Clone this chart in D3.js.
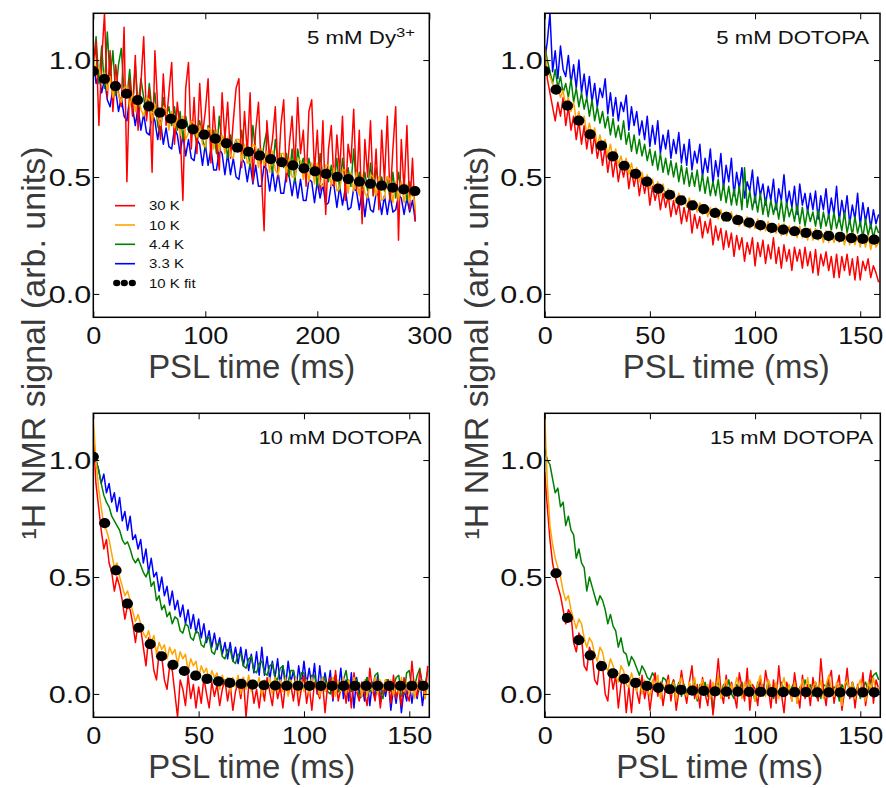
<!DOCTYPE html>
<html><head><meta charset="utf-8">
<script src="https://cdn.jsdelivr.net/npm/d3@7"></script>
<style>body{margin:0;background:#fff}svg{display:block}</style>
</head><body>
<svg id="c" width="886" height="788"></svg>
<script>
// ---------------- DATA ----------------
const seriesLabels = ["30 K", "10 K", "4.4 K", "3.3 K"];
const fitLabel = "10 K fit";
const panelTitles = ["5 mM Dy", "5 mM DOTOPA", "10 mM DOTOPA", "15 mM DOTOPA"];
const xTicksLong = [0, 100, 200, 300];
const xTicksShort = [0, 50, 100, 150];
const yTicks = [0.0, 0.5, 1.0];

// panel 1 : 5 mM Dy3+
const timeLong = [0,2.5,5,7.5,10,12.5,15,17.5,
 20,22.5,25,27.5,30,32.5,35,37.5,
 40,42.5,45,47.5,50,52.5,55,57.5,
 60,62.5,65,67.5,70,72.5,75,77.5,
 80,82.5,85,87.5,90,92.5,95,97.5,
 100,102.5,105,107.5,110,112.5,115,117.5,
 120,122.5,125,127.5,130,132.5,135,137.5,
 140,142.5,145,147.5,150,152.5,155,157.5,
 160,162.5,165,167.5,170,172.5,175,177.5,
 180,182.5,185,187.5,190,192.5,195,197.5,
 200,202.5,205,207.5,210,212.5,215,217.5,
 220,222.5,225,227.5,230,232.5,235,237.5,
 240,242.5,245,247.5,250,252.5,255,257.5,
 260,262.5,265,267.5,270,272.5,275,277.5,
 280,282.5,285,287.5];
const p1Red = [0.95,1.08,0.72,1.00, 1.20,0.84,1.04,0.78, 0.98,0.86,0.80,1.14, 0.48,0.92,0.76,1.02,
 0.70,0.90,1.10,0.74, 0.88,0.52,1.04,0.80, 0.66,0.94,0.72,0.86, 0.99,0.64,0.82,0.70,
 0.40,0.88,0.99,0.62, 0.84,0.60,0.90,0.68, 0.78,0.92,0.56,0.80, 0.64,0.53,0.86,0.66,
 0.82,0.58,0.74,0.88, 0.92,0.54,0.78,0.60, 0.86,0.48,0.70,0.82, 0.52,0.27,0.74,0.58,
 0.66,0.80,0.50,0.72, 0.83,0.48,0.64,0.76, 0.54,0.84,0.60,0.70, 0.46,0.78,0.83,0.52,
 0.70,0.44,0.74,0.34, 0.62,0.72,0.46,0.68, 0.52,0.76,0.40,0.64, 0.56,0.79,0.44,0.70,
 0.30,0.66,0.50,0.74, 0.42,0.62,0.36,0.70, 0.48,0.76,0.40,0.62, 0.80,0.23,0.66,0.44,
 0.72,0.36,0.58,0.31];
const p1Orange = [1.02,0.94,0.97,0.90, 0.95,0.87,0.93,0.84, 0.91,0.85,0.82,0.88, 0.89,0.80,0.86,0.78,
 0.85,0.79,0.76,0.84, 0.83,0.74,0.81,0.75, 0.72,0.80,0.79,0.70, 0.78,0.71,0.75,0.68,
 0.76,0.66,0.69,0.74, 0.73,0.67,0.72,0.64, 0.63,0.71,0.70,0.62, 0.70,0.61,0.68,0.60,
 0.67,0.59,0.58,0.66, 0.66,0.57,0.64,0.56, 0.56,0.64,0.63,0.54, 0.62,0.55,0.61,0.52,
 0.61,0.53,0.51,0.60, 0.60,0.52,0.58,0.50, 0.50,0.58,0.57,0.49, 0.57,0.48,0.56,0.47,
 0.56,0.47,0.46,0.55, 0.55,0.46,0.54,0.44, 0.45,0.53,0.53,0.43, 0.52,0.44,0.52,0.42,
 0.51,0.43,0.41,0.51, 0.50,0.42,0.50,0.40, 0.41,0.50,0.49,0.39, 0.48,0.40,0.48,0.39,
 0.47,0.39,0.46,0.36];
const p1Green = [0.98,1.10,0.90,1.06, 0.88,1.12,0.92,1.04, 0.85,0.98,1.05,0.86, 0.84,0.96,0.80,0.98,
 0.80,0.92,0.84,0.76, 0.90,0.78,0.86,0.72, 0.68,0.84,0.76,0.80, 0.72,0.80,0.70,0.78,
 0.66,0.76,0.70,0.74, 0.70,0.64,0.74,0.66, 0.62,0.72,0.66,0.70, 0.60,0.76,0.64,0.68,
 0.58,0.68,0.62,0.66, 0.61,0.70,0.58,0.64, 0.54,0.72,0.60,0.62, 0.56,0.64,0.70,0.58,
 0.52,0.66,0.56,0.60, 0.54,0.60,0.50,0.62, 0.48,0.62,0.54,0.58, 0.50,0.58,0.52,0.56,
 0.46,0.60,0.50,0.54, 0.48,0.55,0.47,0.58, 0.44,0.58,0.48,0.54, 0.46,0.62,0.45,0.52,
 0.45,0.52,0.44,0.56, 0.42,0.54,0.46,0.50, 0.44,0.50,0.40,0.52, 0.41,0.52,0.44,0.48,
 0.40,0.48,0.42,0.45];
const p1Blue = [1.00,0.90,0.94,0.86, 0.92,0.83,0.80,0.88, 0.87,0.78,0.84,0.76, 0.74,0.84,0.80,0.72,
 0.80,0.70,0.77,0.69, 0.68,0.77,0.74,0.66, 0.74,0.64,0.71,0.63, 0.62,0.71,0.68,0.60,
 0.68,0.59,0.66,0.58, 0.57,0.66,0.64,0.55, 0.64,0.55,0.62,0.53, 0.53,0.62,0.60,0.51,
 0.60,0.51,0.58,0.50, 0.49,0.58,0.56,0.48, 0.56,0.47,0.55,0.46, 0.46,0.55,0.53,0.44,
 0.53,0.44,0.52,0.43, 0.43,0.52,0.50,0.42, 0.50,0.41,0.49,0.40, 0.40,0.49,0.48,0.39,
 0.48,0.41,0.47,0.38, 0.39,0.47,0.46,0.37, 0.46,0.38,0.45,0.36, 0.37,0.45,0.44,0.36,
 0.44,0.33,0.43,0.36, 0.35,0.43,0.42,0.34, 0.42,0.34,0.42,0.35, 0.36,0.42,0.41,0.34,
 0.41,0.35,0.40,0.31];
const fitTimeLong = [0,9.9,19.8,29.7,39.6,49.5,59.4,69.3,79.2,89.1,99,108.9,118.8,128.7,138.6,148.5,158.4,168.3,178.2,188.1,198,207.9,217.8,227.7,237.6,247.5,257.4,267.3,277.2,287.1];
const p1Fit = [0.953,0.919,0.889,0.856,0.829,0.802,0.775,0.749,0.726,0.704,0.681,0.664,0.644,0.625,0.608,0.591,0.576,0.563,0.550,0.537,0.524,0.513,0.501,0.491,0.480,0.471,0.463,0.454,0.447,0.440];

// panels 2-4 : DOTOPA
const timeShort = [0,1.25,2.5,3.75,5,6.25,7.5,8.75,
 10,11.25,12.5,13.75,15,16.25,17.5,18.75,
 20,21.25,22.5,23.75,25,26.25,27.5,28.75,
 30,31.25,32.5,33.75,35,36.25,37.5,38.75,
 40,41.25,42.5,43.75,45,46.25,47.5,48.75,
 50,51.25,52.5,53.75,55,56.25,57.5,58.75,
 60,61.25,62.5,63.75,65,66.25,67.5,68.75,
 70,71.25,72.5,73.75,75,76.25,77.5,78.75,
 80,81.25,82.5,83.75,85,86.25,87.5,88.75,
 90,91.25,92.5,93.75,95,96.25,97.5,98.75,
 100,101.25,102.5,103.75,105,106.25,107.5,108.75,
 110,111.25,112.5,113.75,115,116.25,117.5,118.75,
 120,121.25,122.5,123.75,125,126.25,127.5,128.75,
 130,131.25,132.5,133.75,135,136.25,137.5,138.75,
 140,141.25,142.5,143.75,145,146.25,147.5,148.75,
 150,151.25,152.5,153.75,155,156.25,157.5,158.75];
const fitTimeShort = [0,5.4,10.8,16.2,21.6,27,32.4,37.8,43.2,48.6,54,59.4,64.8,70.2,75.6,81,86.4,91.8,97.2,102.6,108,113.4,118.8,124.2,129.6,135,140.4,145.8,151.2,156.6];

const p2Red = [1.05,0.92,0.86,0.80,0.74,0.82,0.76,0.84, 0.72,0.80,0.70,0.76,0.66,0.74,0.64,0.72,
 0.62,0.70,0.60,0.68,0.58,0.64,0.55,0.63, 0.52,0.60,0.50,0.58,0.48,0.55,0.50,0.56,
 0.45,0.53,0.46,0.52,0.42,0.50,0.43,0.49, 0.38,0.46,0.40,0.45,0.36,0.43,0.37,0.42,
 0.33,0.40,0.34,0.39,0.30,0.37,0.31,0.38, 0.26,0.34,0.28,0.33,0.24,0.31,0.26,0.32,
 0.21,0.29,0.23,0.28,0.19,0.27,0.20,0.26, 0.16,0.25,0.19,0.24,0.14,0.22,0.17,0.24,
 0.12,0.22,0.16,0.23,0.13,0.21,0.15,0.24, 0.13,0.20,0.11,0.21,0.14,0.19,0.10,0.20,
 0.14,0.19,0.11,0.20,0.12,0.18,0.09,0.19, 0.08,0.17,0.12,0.18,0.10,0.16,0.07,0.17,
 0.07,0.16,0.10,0.17,0.08,0.15,0.06,0.16, 0.06,0.14,0.10,0.15,0.07,0.12,0.09,0.05];
const p2Orange = [1.05,0.95,0.93,0.90,0.86,0.89,0.84,0.87, 0.80,0.84,0.78,0.82,0.74,0.78,0.72,0.76,
 0.68,0.73,0.67,0.71,0.63,0.68,0.62,0.66, 0.59,0.64,0.58,0.62,0.55,0.59,0.54,0.58,
 0.51,0.56,0.50,0.54,0.48,0.52,0.47,0.51, 0.45,0.49,0.44,0.48,0.42,0.47,0.41,0.45,
 0.40,0.44,0.39,0.43,0.38,0.42,0.37,0.41, 0.36,0.40,0.35,0.39,0.34,0.38,0.33,0.37,
 0.33,0.37,0.32,0.36,0.31,0.35,0.31,0.35, 0.30,0.34,0.29,0.33,0.29,0.33,0.28,0.32,
 0.28,0.32,0.27,0.31,0.27,0.31,0.26,0.30, 0.26,0.30,0.25,0.30,0.25,0.29,0.25,0.29,
 0.24,0.29,0.24,0.28,0.23,0.28,0.23,0.28, 0.23,0.27,0.22,0.27,0.22,0.27,0.22,0.26,
 0.22,0.26,0.21,0.26,0.21,0.26,0.21,0.25, 0.20,0.25,0.20,0.25,0.19,0.24,0.20,0.22];
const p2Green = [1.06,1.00,0.95,0.90,0.96,0.88,0.93,0.86, 0.90,0.84,0.92,0.82,0.88,0.80,0.86,0.79,
 0.84,0.76,0.83,0.74,0.80,0.73,0.78,0.71, 0.76,0.68,0.75,0.67,0.72,0.66,0.74,0.64,
 0.69,0.61,0.68,0.60,0.66,0.59,0.64,0.57, 0.62,0.55,0.61,0.53,0.60,0.52,0.58,0.51,
 0.57,0.50,0.56,0.48,0.55,0.47,0.54,0.46, 0.52,0.46,0.53,0.44,0.51,0.43,0.50,0.42,
 0.48,0.42,0.49,0.40,0.47,0.39,0.46,0.38, 0.45,0.38,0.46,0.36,0.54,0.37,0.44,0.36,
 0.42,0.35,0.43,0.34,0.41,0.33,0.40,0.34, 0.39,0.32,0.40,0.31,0.39,0.33,0.37,0.31,
 0.38,0.30,0.37,0.29,0.36,0.31,0.35,0.29, 0.36,0.28,0.35,0.29,0.34,0.27,0.35,0.28,
 0.33,0.27,0.35,0.26,0.32,0.25,0.33,0.26, 0.31,0.24,0.32,0.25,0.30,0.24,0.29,0.26];
const p2Blue = [1.00,1.08,1.20,0.95,1.04,0.92,1.06,0.96, 0.93,1.02,0.90,0.98,0.88,1.00,0.86,0.94,
 0.84,0.93,0.82,0.90,0.80,0.88,0.84,0.92, 0.77,0.86,0.76,0.84,0.74,0.82,0.78,0.85,
 0.70,0.80,0.72,0.78,0.68,0.74,0.66,0.76, 0.63,0.72,0.64,0.74,0.60,0.68,0.62,0.70,
 0.58,0.66,0.60,0.69,0.56,0.64,0.55,0.66, 0.53,0.61,0.56,0.64,0.50,0.58,0.52,0.62,
 0.47,0.57,0.50,0.60,0.45,0.55,0.48,0.58, 0.42,0.52,0.45,0.54,0.41,0.48,0.44,0.53,
 0.39,0.50,0.42,0.47,0.38,0.46,0.40,0.49, 0.36,0.45,0.40,0.51,0.38,0.44,0.37,0.46,
 0.34,0.47,0.38,0.43,0.35,0.43,0.36,0.44, 0.32,0.42,0.36,0.45,0.33,0.41,0.34,0.46,
 0.31,0.40,0.33,0.42,0.30,0.38,0.32,0.43, 0.29,0.39,0.31,0.37,0.28,0.36,0.30,0.34];
const p2Fit = [0.953,0.874,0.805,0.741,0.682,0.634,0.588,0.548,0.513,0.480,0.450,0.424,0.400,0.379,0.363,0.346,0.330,0.316,0.305,0.294,0.282,0.275,0.268,0.261,0.253,0.248,0.244,0.239,0.235,0.232];

const p3Red = [1.10,0.90,0.80,0.70,0.62,0.66,0.56,0.52, 0.44,0.50,0.46,0.40,0.32,0.38,0.36,0.30,
 0.22,0.30,0.28,0.20,0.12,0.24,0.20,0.10, 0.06,0.18,0.16,0.06,0.02,0.12,0.10,0.00,
 -0.10,0.06,0.02,-0.05,0.08,-0.02,0.04,-0.06, 0.03,-0.04,0.07,0.00,-0.06,0.05,-0.01,0.04,
 -0.05,0.02,0.06,-0.03,0.04,-0.07,0.01,0.05, -0.02,0.07,-0.10,0.03,0.05,-0.04,0.02,-0.06,
 0.04,-0.03,0.07,0.01,-0.05,0.06,-0.02,0.03, -0.06,0.05,0.00,0.04,-0.03,0.06,-0.05,0.02,
 0.08,-0.04,0.03,-0.07,0.05,0.01,-0.02,0.06, -0.08,0.04,0.07,-0.02,0.10,-0.03,0.02,0.05,
 -0.04,0.06,-0.06,0.09,0.01,-0.03,0.05,0.00, -0.05,0.11,0.02,-0.03,0.06,-0.06,0.04,0.01,
 0.06,-0.04,0.08,-0.02,0.03,-0.05,0.07,0.00, -0.03,0.14,0.02,-0.01,0.10,0.04,-0.02,0.12];
const p3Orange = [1.18,1.00,0.88,0.80,0.72,0.70,0.66,0.60, 0.54,0.56,0.50,0.46,0.42,0.44,0.40,0.35,
 0.31,0.34,0.30,0.26,0.24,0.27,0.22,0.25, 0.17,0.22,0.19,0.21,0.15,0.20,0.17,0.19,
 0.13,0.18,0.15,0.17,0.10,0.15,0.12,0.14, 0.07,0.12,0.09,0.11,0.05,0.10,0.07,0.09,
 0.02,0.08,0.04,0.07,0.01,0.07,0.03,0.08, 0.00,0.07,0.02,0.08,0.01,0.06,0.03,0.07,
 -0.01,0.06,0.02,0.07,0.00,0.07,0.01,0.06, 0.01,0.07,-0.01,0.06,0.02,0.07,0.00,0.06,
 0.01,0.06,0.00,0.07,0.02,0.05,-0.01,0.07, 0.01,0.05,0.02,0.07,-0.01,0.06,0.01,0.07,
 0.00,0.06,0.02,0.07,0.01,0.05,-0.01,0.06, -0.01,0.05,0.01,0.07,0.00,0.06,0.02,0.06,
 0.01,0.06,-0.01,0.05,0.00,0.07,0.01,0.05, 0.00,0.06,-0.02,0.05,0.01,0.06,-0.02,0.04];
const p3Green = [1.08,1.00,0.96,0.90,0.85,0.82,0.80,0.76, 0.74,0.72,0.70,0.66,0.64,0.65,0.62,0.58,
 0.56,0.58,0.55,0.52,0.50,0.53,0.46,0.48, 0.40,0.42,0.36,0.38,0.33,0.35,0.30,0.33,
 0.32,0.27,0.26,0.30,0.29,0.24,0.23,0.27, 0.26,0.21,0.20,0.24,0.24,0.18,0.17,0.21,
 0.22,0.16,0.15,0.19,0.19,0.14,0.13,0.17, 0.17,0.12,0.11,0.15,0.16,0.10,0.09,0.13,
 0.14,0.09,0.08,0.12,0.13,0.07,0.06,0.11, 0.12,0.06,0.05,0.10,0.10,0.05,0.04,0.09,
 0.09,0.03,0.02,0.08,0.08,0.02,0.03,0.07, 0.07,0.01,0.00,0.06,0.08,0.01,0.02,0.06,
 0.10,0.02,0.01,0.07,0.06,-0.02,-0.01,0.05, 0.07,0.01,0.02,0.08,0.09,0.00,-0.02,0.06,
 0.06,0.01,0.03,0.07,0.08,-0.01,0.00,0.09, 0.10,0.02,0.03,0.08,0.11,0.03,0.04,0.10];
const p3Blue = [1.05,1.00,0.96,0.90,0.94,0.86,0.90,0.82, 0.86,0.78,0.84,0.74,0.78,0.70,0.76,0.66,
 0.68,0.62,0.66,0.56,0.62,0.52,0.58,0.50, 0.52,0.44,0.50,0.42,0.46,0.38,0.44,0.36,
 0.40,0.33,0.38,0.30,0.36,0.28,0.34,0.26, 0.32,0.24,0.30,0.22,0.27,0.20,0.26,0.19,
 0.24,0.17,0.22,0.15,0.22,0.14,0.20,0.13, 0.20,0.12,0.19,0.10,0.17,0.09,0.18,0.08,
 0.20,0.08,0.16,0.06,0.14,0.07,0.15,0.04, 0.12,0.03,0.14,0.05,0.10,0.02,0.12,0.04,
 0.14,0.04,0.11,0.03,0.13,0.00,0.12,0.02, 0.09,0.02,0.10,-0.03,0.08,0.01,0.11,-0.02,
 0.06,-0.03,0.09,-0.06,0.07,0.00,0.05,-0.03, 0.07,-0.05,0.05,-0.02,0.08,-0.04,0.04,-0.01,
 0.06,-0.07,0.03,-0.04,0.05,-0.08,0.02,-0.03, 0.05,-0.04,0.04,-0.02,0.06,-0.05,0.04,0.02];
const p3Fit = [1.014,0.730,0.528,0.386,0.283,0.213,0.161,0.124,0.098,0.078,0.064,0.054,0.047,0.043,0.040,0.037,0.036,0.035,0.035,0.034,0.034,0.034,0.034,0.034,0.034,0.034,0.034,0.034,0.034,0.034];

const p4Red = [0.95,0.80,0.66,0.56,0.50,0.46,0.42,0.36, 0.30,0.36,0.34,0.22,0.18,0.26,0.24,0.12,
 0.10,0.20,0.17,0.06,0.04,0.14,0.12,0.00, -0.03,0.10,0.02,0.08,-0.06,0.04,0.07,-0.08,
 0.03,-0.08,0.06,0.01,-0.04,0.08,-0.02,0.04, -0.07,0.02,0.09,-0.01,0.05,-0.05,0.03,0.08,
 -0.03,0.06,-0.07,0.01,0.10,0.02,-0.04,0.05, 0.12,-0.02,0.04,-0.06,0.07,0.00,-0.05,0.06,
 -0.09,0.03,0.15,0.01,-0.04,0.08,-0.02,0.05, 0.00,-0.06,0.09,0.03,-0.03,0.11,-0.07,0.04,
 0.02,-0.05,0.07,-0.01,0.10,0.03,-0.06,0.06, -0.04,0.12,0.00,-0.08,0.05,0.02,-0.03,0.09,
 0.01,-0.06,0.08,-0.02,0.04,-0.05,0.07,0.00, -0.03,0.15,0.02,-0.05,0.06,0.10,-0.04,0.03,
 0.08,-0.07,0.01,0.11,-0.02,0.05,-0.06,0.04, -0.01,0.09,-0.05,0.03,0.10,-0.04,0.06,0.02];
const p4Orange = [1.20,0.90,0.72,0.64,0.58,0.54,0.50,0.44, 0.40,0.42,0.36,0.32,0.28,0.32,0.30,0.24,
 0.20,0.24,0.22,0.17,0.14,0.20,0.18,0.12, 0.10,0.15,0.12,0.08,0.05,0.12,0.10,0.04,
 0.03,0.09,0.05,0.01,0.07,0.00,0.06,0.02, -0.01,0.06,0.03,0.08,-0.02,0.04,0.01,0.06,
 0.00,0.05,-0.03,0.04,0.07,0.01,-0.01,0.05, 0.02,0.07,-0.02,0.03,0.06,0.00,0.04,-0.02,
 0.05,0.01,0.08,-0.02,0.03,0.06,-0.01,0.04, 0.01,0.07,0.03,-0.02,0.05,0.00,0.06,0.02,
 -0.03,0.04,0.08,0.01,-0.01,0.06,0.03,0.00, 0.05,-0.02,0.03,0.07,0.00,0.04,-0.03,0.05,
 -0.04,0.02,0.06,0.01,0.07,-0.01,0.03,0.05, 0.00,0.06,-0.02,0.04,0.08,0.02,-0.01,0.05,
 0.03,-0.05,0.04,0.06,0.00,0.05,-0.02,0.03, 0.06,0.01,-0.03,0.05,0.02,0.07,0.00,0.03];
const p4Green = [1.05,1.00,0.98,0.92,0.86,0.88,0.80,0.82, 0.72,0.76,0.70,0.68,0.58,0.62,0.56,0.54,
 0.44,0.50,0.46,0.42,0.38,0.42,0.40,0.36, 0.30,0.34,0.29,0.27,0.20,0.24,0.18,0.17,
 0.12,0.16,0.14,0.11,0.08,0.12,0.10,0.07, 0.06,0.09,0.07,0.04,0.02,0.07,0.06,0.03,
 0.03,0.06,0.01,0.05,-0.01,0.04,0.00,0.03, 0.02,0.06,-0.03,0.04,0.01,0.05,-0.01,0.03,
 -0.08,0.03,0.05,0.00,0.04,0.01,0.06,0.00, -0.02,0.04,0.02,0.05,-0.01,0.03,0.04,0.01,
 -0.03,0.05,0.01,0.04,0.00,0.06,0.02,-0.02, 0.03,-0.01,0.05,0.02,0.04,0.00,0.03,0.05,
 -0.04,0.03,0.01,0.06,0.02,0.04,-0.01,0.05, 0.01,-0.02,0.04,0.03,0.06,0.00,0.03,0.02,
 -0.03,0.04,0.02,0.06,0.00,0.05,0.01,0.03, -0.02,0.03,0.05,0.01,0.06,0.08,0.09,0.06];
const fitTimeP4 = [5.4,10.8,16.2,21.6,27,32.4,37.8,43.2,48.6,54,59.4,64.8,70.2,75.6,81,86.4,91.8,97.2,102.6,108,113.4,118.8,124.2,129.6,135,140.4,145.8,151.2,156.6];
const p4Fit = [0.516,0.325,0.230,0.165,0.119,0.088,0.064,0.047,0.034,0.026,0.020,0.017,0.014,0.013,0.011,0.010,0.010,0.009,0.009,0.008,0.008,0.008,0.008,0.007,0.007,0.007,0.007,0.007,0.007];

// ---------------- STYLE / LAYOUT ----------------
const FONT = "'Liberation Sans', Arial, Helvetica, sans-serif";
const seriesColors = ["#ff0000", "#ffa500", "#008000", "#0000ff"];
const drawOrder = [3, 2, 0, 1];
const svg = d3.select("#c");

const panels = [
  {left:93.3, top:13.3, width:336, height:304, xMax:300, xTicks:xTicksLong,
   time:timeLong, series:[p1Red,p1Orange,p1Green,p1Blue], fitT:fitTimeLong, fitV:p1Fit,
   title:panelTitles[0], sup:"3+", titleX:415, titleY:43.5, legend:true,
   xlab:{cx:251.7, y:378}},
  {left:544.7, top:13.3, width:335.3, height:304, xMax:159.4, xTicks:xTicksShort,
   time:timeShort, series:[p2Red,p2Orange,p2Green,p2Blue], fitT:fitTimeShort, fitV:p2Fit,
   title:panelTitles[1], titleX:869, titleY:43.5, titleW:152.7,
   xlab:{cx:726.3, y:378}},
  {left:93.3, top:413.3, width:336, height:304, xMax:159.5, xTicks:xTicksShort,
   time:timeShort, series:[p3Red,p3Orange,p3Green,p3Blue], fitT:fitTimeShort, fitV:p3Fit,
   title:panelTitles[2], titleX:421.7, titleY:443.5, titleW:163,
   xlab:{cx:251.7, y:778}},
  {left:544.7, top:413.3, width:335.6, height:304, xMax:159.5, xTicks:xTicksShort,
   time:timeShort, series:[p4Red,p4Orange,p4Green,null], fitT:fitTimeP4, fitV:p4Fit,
   title:panelTitles[3], titleX:873, titleY:443.5, titleW:163,
   xlab:{cx:719.7, y:778}}
];

function stretchText(sel, w){
  sel.attr("textLength", w).attr("lengthAdjust","spacingAndGlyphs");
}

panels.forEach((p, pi) => {
  const x = d3.scaleLinear().domain([0, p.xMax]).range([p.left, p.left + p.width]);
  const y = d3.scaleLinear().domain([-0.1, 1.2]).range([p.top + p.height, p.top]);
  const clipId = "clip" + pi;
  svg.append("clipPath").attr("id", clipId).append("rect")
    .attr("x", p.left).attr("y", p.top).attr("width", p.width).attr("height", p.height);
  const g = svg.append("g").attr("clip-path", `url(#${clipId})`);
  drawOrder.forEach(si => {
    const s = p.series[si];
    if (!s) return;
    const n = Math.min(s.length, p.time.length);
    const pts = d3.range(n).map(i => [p.time[i], s[i]]);
    const line = d3.line().x(d => x(d[0])).y(d => y(d[1]));
    g.append("path").datum(pts).attr("d", line)
      .attr("fill","none").attr("stroke", seriesColors[si])
      .attr("stroke-width", 1.5).attr("stroke-linejoin","round");
  });
  g.selectAll("ellipse.fit").data(p.fitV).enter().append("ellipse")
    .attr("cx", (d,i) => x(p.fitT[i])).attr("cy", d => y(d))
    .attr("rx", 5.6).attr("ry", 5.1).attr("fill", "#000");

  // axes: ticks inside, on all four sides
  const tickLen = 6;
  const axB = d3.axisBottom(x).tickValues(p.xTicks).tickSize(-tickLen).tickFormat(d3.format("d"));
  const axT = d3.axisTop(x).tickValues(p.xTicks).tickSize(-tickLen).tickFormat("");
  const axL = d3.axisLeft(y).tickValues(yTicks).tickSize(-tickLen).tickFormat(d3.format(".1f"));
  const axR = d3.axisRight(y).tickValues(yTicks).tickSize(-tickLen).tickFormat("");
  const gb = svg.append("g").attr("transform", `translate(0,${p.top+p.height})`).call(axB);
  const gt = svg.append("g").attr("transform", `translate(0,${p.top})`).call(axT);
  const gl = svg.append("g").attr("transform", `translate(${p.left},0)`).call(axL);
  const gr = svg.append("g").attr("transform", `translate(${p.left+p.width},0)`).call(axR);
  [gb,gt,gl,gr].forEach(a => {
    a.select(".domain").remove();
    a.selectAll(".tick line").attr("stroke","#000").attr("stroke-width",1);
  });
  gb.selectAll(".tick text").attr("font-family", FONT).attr("font-size", 23.5).attr("fill","#111")
    .attr("dy", null).each(function(){
      const t = d3.select(this);
      t.attr("y", 27);
      stretchText(t, this.getComputedTextLength()*1.15);
    });
  gl.selectAll(".tick text").attr("font-family", FONT).attr("font-size", 23.5).attr("fill","#111")
    .attr("dy", "0.35em").each(function(){
      const t = d3.select(this);
      t.attr("x", -2);
      stretchText(t, this.getComputedTextLength()*1.3);
    });
  // frame
  svg.append("rect").attr("x", p.left).attr("y", p.top).attr("width", p.width).attr("height", p.height)
    .attr("fill","none").attr("stroke","#000").attr("stroke-width",1.5);

  // panel title
  const tt = svg.append("text").attr("x", p.titleX).attr("y", p.titleY)
    .attr("text-anchor","end").attr("font-family", FONT).attr("font-size", 18.5).attr("fill","#111");
  if (p.sup) {
    const m = tt.append("tspan").text(p.title);
    stretchText(m, 89);
    const s = tt.append("tspan").attr("font-size", 13).attr("dy", -7).text(p.sup);
    stretchText(s, 19);
  } else {
    tt.text(p.title);
    stretchText(tt, p.titleW);
  }

  // x axis title
  const xt = svg.append("text").attr("x", p.xlab.cx).attr("y", p.xlab.y).attr("text-anchor","middle")
    .attr("font-family", FONT).attr("font-size", 33).attr("fill","#3a3a3a").text("PSL time (ms)");
  stretchText(xt, 207);

  // legend
  if (p.legend) {
    const rowY = [205.7, 225, 244.3, 263.7, 283];
    const lg = svg.append("g");
    seriesLabels.forEach((lab, i) => {
      lg.append("line").attr("x1",115).attr("x2",135).attr("y1",rowY[i]).attr("y2",rowY[i])
        .attr("stroke", seriesColors[i]).attr("stroke-width",1.6);
      const t = lg.append("text").attr("x",149).attr("y",rowY[i]+4.6).attr("font-family",FONT)
        .attr("font-size",13).attr("fill","#111").text(lab);
      stretchText(t, t.node().getComputedTextLength()*1.15);
    });
    [116.7,124.3,132.3].forEach(cx => lg.append("ellipse").attr("cx",cx).attr("cy",rowY[4])
      .attr("rx",3.6).attr("ry",3.3).attr("fill","#000"));
    const t = lg.append("text").attr("x",149).attr("y",rowY[4]+4.6).attr("font-family",FONT)
      .attr("font-size",13).attr("fill","#111").text(fitLabel);
    stretchText(t, t.node().getComputedTextLength()*1.15);
  }
});

// y axis titles
[45, 488].forEach(bx => {
  svg.append("text").attr("transform", `translate(${bx},343) rotate(-90)`).attr("text-anchor","middle")
    .attr("font-family", FONT).attr("font-size", 34).attr("fill","#3a3a3a")
    .text("\u00B9H NMR signal (arb. units)");
});
</script>
</body></html>
